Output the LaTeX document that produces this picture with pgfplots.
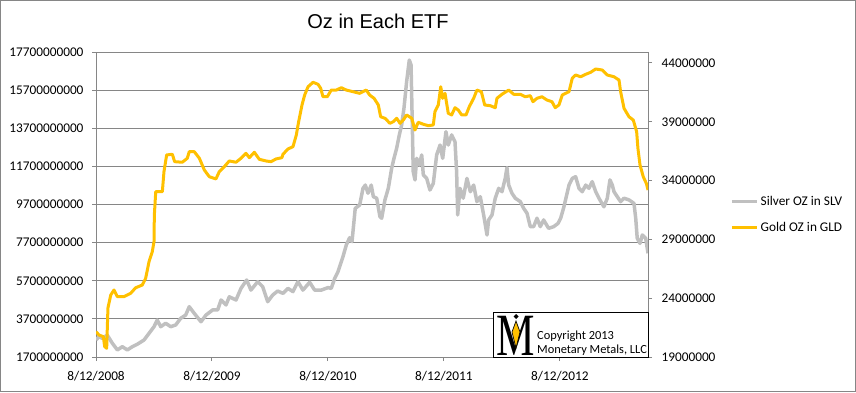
\documentclass[border=0pt]{standalone}
\usepackage{pgfplots}
\pgfplotsset{compat=1.18}
\usepackage{fontspec}
\setmainfont{Carlito}
\newfontfamily\arialf{Liberation Sans}
\newfontfamily\seriff{Liberation Serif}
\definecolor{gridgray}{HTML}{868686}
\definecolor{silverc}{HTML}{C0C0C0}
\definecolor{goldc}{HTML}{FFC000}

\pgfplotstableread{
t S
0.000 2.59
0.026 2.77
0.054 2.68
0.097 2.85
0.141 2.42
0.184 2.07
0.227 2.24
0.270 2.07
0.313 2.24
0.356 2.37
0.414 2.59
0.457 2.94
0.500 3.29
0.528 3.64
0.558 3.29
0.601 3.47
0.644 3.29
0.687 3.38
0.730 3.73
0.773 3.90
0.804 4.34
0.847 3.99
0.905 3.55
0.948 3.90
1.006 4.17
1.049 4.17
1.078 4.69
1.121 4.43
1.149 4.86
1.207 4.69
1.250 5.30
1.299 5.74
1.336 5.21
1.394 5.65
1.437 5.39
1.480 4.60
1.523 4.95
1.566 5.16
1.612 5.04
1.655 5.30
1.698 5.13
1.741 5.65
1.784 5.21
1.842 5.62
1.885 5.21
1.942 5.21
2.000 5.34
2.028 5.30
2.058 5.83
2.086 6.17
2.129 6.96
2.158 7.58
2.187 7.96
2.207 7.75
2.235 9.50
2.273 9.67
2.302 10.55
2.322 10.72
2.345 10.29
2.373 10.72
2.391 10.11
2.420 10.03
2.448 9.06
2.463 8.98
2.491 9.94
2.520 10.55
2.549 11.60
2.569 12.12
2.592 12.65
2.615 13.35
2.635 13.87
2.655 14.75
2.678 16.14
2.701 17.28
2.716 17.02
2.727 13.87
2.735 11.42
2.750 10.99
2.765 12.12
2.787 11.77
2.808 12.30
2.822 11.25
2.851 11.07
2.879 10.46
2.908 10.81
2.937 12.30
2.966 12.82
2.989 12.12
3.017 13.52
3.037 12.82
3.066 13.35
3.095 12.99
3.109 11.42
3.118 9.15
3.138 10.55
3.166 10.03
3.198 11.07
3.227 10.37
3.256 10.72
3.284 9.85
3.313 10.11
3.342 9.15
3.371 8.10
3.385 8.89
3.414 9.15
3.442 10.03
3.472 10.55
3.500 10.37
3.528 11.07
3.543 11.63
3.558 10.72
3.586 10.29
3.615 10.03
3.658 9.85
3.687 9.50
3.716 9.24
3.744 8.54
3.773 8.54
3.802 8.98
3.830 8.54
3.859 8.89
3.902 8.45
3.946 8.54
3.983 8.71
4.006 8.98
4.034 9.58
4.078 10.72
4.106 11.07
4.135 11.16
4.164 10.55
4.192 10.37
4.222 10.72
4.250 10.55
4.278 10.90
4.308 10.37
4.336 10.03
4.379 9.58
4.408 10.03
4.431 10.99
4.451 10.72
4.466 10.37
4.494 10.11
4.523 9.85
4.552 10.03
4.595 9.94
4.638 9.76
4.653 8.98
4.666 7.93
4.690 7.66
4.710 8.10
4.739 7.93
4.759 7.14
}\silvertable

\pgfplotstableread{
t G
0.000 21.15
0.026 20.87
0.063 20.73
0.075 19.88
0.092 19.74
0.103 23.17
0.127 24.27
0.155 24.70
0.184 24.13
0.241 24.13
0.299 24.42
0.342 24.89
0.399 25.12
0.428 25.69
0.457 27.10
0.485 27.95
0.500 28.80
0.503 31.07
0.515 33.06
0.572 33.06
0.586 34.76
0.609 36.18
0.658 36.24
0.678 35.61
0.744 35.56
0.787 35.90
0.804 36.46
0.847 36.46
0.891 35.90
0.934 34.90
0.977 34.33
1.034 34.14
1.063 34.76
1.106 35.18
1.149 35.67
1.207 35.56
1.250 35.90
1.293 36.32
1.322 35.95
1.365 36.41
1.408 35.81
1.466 35.67
1.509 35.61
1.552 35.84
1.603 35.95
1.612 36.24
1.655 36.69
1.698 36.88
1.727 37.88
1.747 39.01
1.776 40.43
1.799 41.28
1.828 41.98
1.871 42.36
1.914 42.19
1.937 41.85
1.957 41.13
1.994 41.13
2.028 41.70
2.072 41.70
2.115 41.90
2.158 41.70
2.216 41.56
2.273 41.42
2.330 41.70
2.359 41.28
2.397 41.00
2.434 40.43
2.454 39.43
2.491 39.30
2.534 38.87
2.563 39.01
2.592 39.30
2.621 38.87
2.649 39.15
2.678 39.58
2.722 39.30
2.750 38.30
2.778 38.96
2.822 38.79
2.865 38.67
2.908 38.73
2.922 39.86
2.951 40.43
2.972 41.98
2.989 41.00
3.009 41.42
3.037 39.72
3.066 39.58
3.095 40.20
3.123 40.00
3.153 39.58
3.190 39.58
3.218 40.28
3.256 41.00
3.284 41.70
3.322 41.56
3.351 40.43
3.399 40.37
3.442 40.20
3.457 41.00
3.500 41.34
3.558 41.70
3.601 41.34
3.658 41.34
3.701 41.13
3.744 41.22
3.767 40.71
3.802 41.00
3.845 41.13
3.888 40.85
3.931 40.71
3.959 40.20
3.991 40.43
4.020 41.28
4.078 41.56
4.106 42.70
4.135 42.98
4.178 42.83
4.222 43.04
4.265 43.21
4.308 43.49
4.365 43.40
4.408 42.98
4.466 42.83
4.509 42.55
4.523 41.56
4.552 40.15
4.595 39.43
4.632 39.15
4.661 38.16
4.672 36.75
4.690 35.33
4.718 34.33
4.745 33.75
4.759 33.20
}\goldtable

\begin{document}
\begin{tikzpicture}[x=1pt,y=1pt]
\useasboundingbox (0,0) rectangle (856,392);
\draw[gridgray, line width=1pt] (0.5,0.5) rectangle (855.5,391.5);
\node[anchor=base, font=\arialf\fontsize{20}{24}\selectfont] at (378,363) {Oz in Each ETF};

\begin{axis}[
  at={(96pt,35pt)}, anchor=south west,
  scale only axis, width=552pt, height=305pt,
  xmin=0, xmax=4.759, ymin=1.7, ymax=17.7,
  axis x line*=bottom, axis y line*=left,
  axis line style={gridgray, line width=1pt},
  xtick={0,1,2,3,4},
  xticklabels={8/12/2008,8/12/2009,8/12/2010,8/12/2011,8/12/2012},
  ytick={1.7,3.7,5.7,7.7,9.7,11.7,13.7,15.7,17.7},
  yticklabels={1700000000,3700000000,5700000000,7700000000,9700000000,11700000000,13700000000,15700000000,17700000000},
  ymajorgrids, grid style={gridgray, line width=1pt},
  tick align=outside, major tick length=4pt,
  tick style={gridgray, line width=1pt},
  ticklabel style={font=\fontsize{13.3}{15}\selectfont, text=black},
  yticklabel style={xshift=-5pt},
  xticklabel style={yshift=-7pt},
]
\addplot[silverc, line width=3.5pt, line join=round] table[x=t, y=S] {\silvertable};
\end{axis}

\begin{axis}[
  at={(96pt,35pt)}, anchor=south west,
  scale only axis, width=552pt, height=305pt,
  xmin=0, xmax=4.759, ymin=19, ymax=44.935,
  axis y line*=right, axis x line=none,
  axis line style={gridgray, line width=1pt},
  ytick={19,24,29,34,39,44},
  yticklabels={19000000,24000000,29000000,34000000,39000000,44000000},
  tick align=outside, major tick length=4pt,
  tick style={gridgray, line width=1pt},
  ticklabel style={font=\fontsize{13.3}{15}\selectfont, text=black},
  yticklabel style={xshift=6pt},
  legend style={at={(1.1486,0.467)}, anchor=west, draw=none, fill=none,
    font=\fontsize{13.3}{15}\selectfont, row sep=11pt, inner sep=0pt},
  legend cell align=left,
  legend image code/.code={\draw[#1] (0pt,0pt) -- (25pt,0pt);},
]
\addlegendimage{silverc, line width=3.5pt}
\addlegendentry{Silver OZ in SLV}
\addplot[goldc, line width=3pt, line join=round] table[x=t, y=G] {\goldtable};
\addlegendentry{Gold OZ in GLD}
\end{axis}

% copyright logo box
\draw[black, line width=1pt, fill=white] (493,35) rectangle (648,80);
\node[anchor=base, inner sep=0pt, font=\seriff\fontsize{60}{60}\selectfont] at (516,37) {\scalebox{0.72}[1]{M}};
\fill[black] (516,78) -- (518.5,75.5) -- (516,73) -- (513.5,75.5) -- cycle;
\filldraw[fill=goldc, draw=black, line width=0.7pt] (516,71) -- (520,60) -- (516,44) -- (512,60) -- cycle;
\node[anchor=base west, inner sep=0pt, font=\fontsize{12.4}{14}\selectfont] at (537,53) {Copyright 2013};
\node[anchor=base west, inner sep=0pt, font=\fontsize{12.4}{14}\selectfont] at (537,38.5) {Monetary Metals, LLC};
\end{tikzpicture}
\end{document}
